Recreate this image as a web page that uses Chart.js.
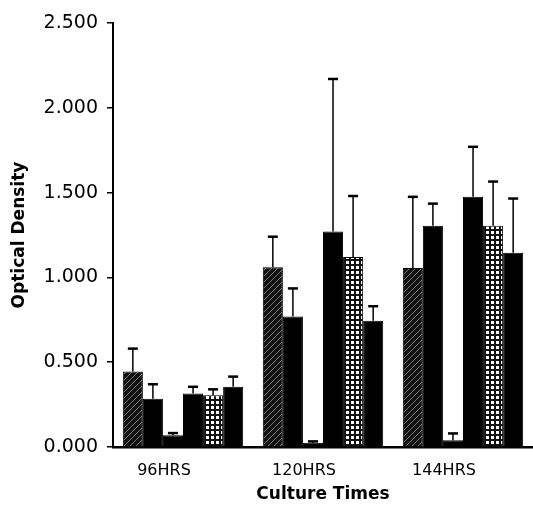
<!DOCTYPE html>
<html>
<head>
<meta charset="utf-8">
<script src="https://cdn.jsdelivr.net/npm/chart.js@4.4.0/dist/chart.umd.min.js"></script>
<style>
  html, body { margin: 0; padding: 0; background: #fff; }
  #wrap { width: 533px; height: 507px; }
</style>
</head>
<body>
<div id="wrap"><canvas id="theChart"></canvas></div>
<script>
// values (bar heights, upper error amounts)
var categories = ['96HRS', '120HRS', '144HRS'];
var series1 = [0.445, 1.06, 1.055];
var series2 = [0.285, 0.77, 1.305];
var series3 = [0.07, 0.025, 0.04];
var series4 = [0.315, 1.27, 1.475];
var series5 = [0.305, 1.12, 1.305];
var series6 = [0.355, 0.745, 1.145];
var err1 = [0.135, 0.18, 0.42];
var err2 = [0.085, 0.165, 0.13];
var err3 = [0.012, 0.008, 0.04];
var err4 = [0.04, 0.90, 0.295];
var err5 = [0.035, 0.36, 0.26];
var err6 = [0.06, 0.085, 0.32];
var yTicks = [0, 0.5, 1, 1.5, 2, 2.5];

function hatchPattern() {
    var c = document.createElement('canvas');
    c.width = 6; c.height = 6;
    var g = c.getContext('2d');
    g.fillStyle = '#111';
    g.fillRect(0, 0, 6, 6);
    g.strokeStyle = '#777';
    g.lineWidth = 1;
    g.beginPath();
    g.moveTo(0, 6); g.lineTo(6, 0);
    g.stroke();
    return g.createPattern(c, 'repeat');
}
function checkPattern() {
    var c = document.createElement('canvas');
    c.width = 5; c.height = 5;
    var g = c.getContext('2d');
    g.fillStyle = '#111';
    g.fillRect(0, 0, 5, 5);
    g.fillStyle = '#fff';
    g.fillRect(1, 1, 3, 3);
    return g.createPattern(c, 'repeat');
}

var errorBars = {
    id: 'errorBars',
    afterDatasetsDraw: function (chart) {
        var ctx = chart.ctx;
        var yScale = chart.scales.y;
        ctx.save();
        ctx.strokeStyle = '#000';
        chart.data.datasets.forEach(function (ds, di) {
            var meta = chart.getDatasetMeta(di);
            meta.data.forEach(function (bar, i) {
                var top = yScale.getPixelForValue(ds.data[i] + ds.errors[i]);
                ctx.lineWidth = 1.5;
                ctx.beginPath();
                ctx.moveTo(bar.x, bar.y);
                ctx.lineTo(bar.x, top);
                ctx.stroke();
                ctx.lineWidth = 2.5;
                ctx.beginPath();
                ctx.moveTo(bar.x - 5, top);
                ctx.lineTo(bar.x + 5, top);
                ctx.stroke();
            });
        });
        ctx.restore();
    }
};

function makeSet(values, errors, fill) {
    return { data: values, errors: errors, backgroundColor: fill, borderColor: '#000', borderWidth: 1 };
}

var ctx = document.getElementById('theChart').getContext('2d');
var chart = new Chart(ctx, {
    type: 'bar',
    data: {
        labels: categories,
        datasets: [
            makeSet(series1, err1, hatchPattern()),
            makeSet(series2, err2, '#000'),
            makeSet(series3, err3, '#000'),
            makeSet(series4, err4, '#000'),
            makeSet(series5, err5, checkPattern()),
            makeSet(series6, err6, '#000')
        ]
    },
    plugins: [errorBars],
    options: {
        responsive: true,
        maintainAspectRatio: false,
        animation: false,
        layout: { padding: { top: 23, right: 0, left: 0, bottom: 0 } },
        datasets: { bar: { categoryPercentage: 0.86, barPercentage: 1.0 } },
        plugins: { legend: { display: false }, tooltip: { enabled: false } },
        scales: {
            x: {
                grid: { display: true, drawOnChartArea: false, drawTicks: false },
                border: { display: true, color: '#000', width: 2.5 },
                ticks: { color: '#000', padding: 14, labelOffset: -19, maxRotation: 0,
                         font: { family: 'DejaVu Sans', size: 16 } },
                title: { display: true, text: 'Culture Times', color: '#000',
                         padding: { top: 0, bottom: 2 },
                         font: { family: 'DejaVu Sans', size: 17, weight: 'bold' } },
                afterFit: function (s) { s.height = 60; }
            },
            y: {
                min: 0, max: 2.5,
                afterBuildTicks: function (s) { s.ticks = yTicks.map(function (v) { return { value: v }; }); },
                grid: { display: true, drawOnChartArea: false, tickLength: 6, color: '#000', lineWidth: 1.5 },
                border: { display: true, color: '#000', width: 2 },
                ticks: { color: '#000', padding: 9,
                         font: { family: 'DejaVu Sans', size: 19 },
                         callback: function (v) { return Number(v).toFixed(3); } },
                title: { display: true, text: 'Optical Density', color: '#000',
                         padding: { top: 9, bottom: 0 },
                         font: { family: 'DejaVu Sans', size: 17, weight: 'bold' } },
                afterFit: function (s) { s.width = 113; }
            }
        }
    }
});
</script>
</body>
</html>
